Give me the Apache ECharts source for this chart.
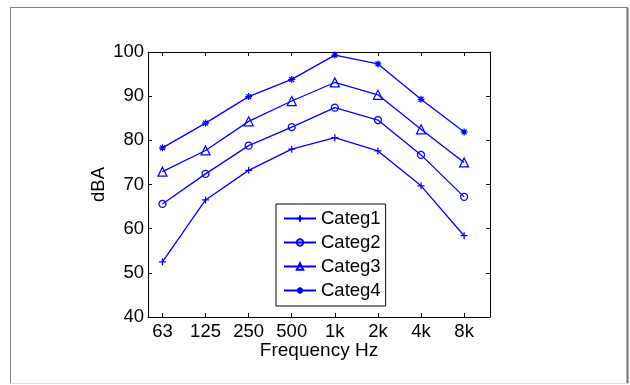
<!DOCTYPE html>
<html>
<head>
<meta charset="utf-8">
<script src="https://cdn.jsdelivr.net/npm/echarts@6/dist/echarts.min.js"></script>
<style>
html,body{margin:0;padding:0;background:#fff;}
#chart{width:630px;height:385px;}
</style>
</head>
<body>
<div id="chart"></div>
<script>
// ---- data ----
var categories = ['63', '125', '250', '500', '1k', '2k', '4k', '8k'];
var seriesNames = ['Categ1', 'Categ2', 'Categ3', 'Categ4'];
var categ1 = [52.5, 66.5, 73.2, 78.0, 80.6, 77.6, 69.7, 58.4];
var categ2 = [65.6, 72.4, 78.8, 83.0, 87.4, 84.6, 76.7, 67.2];
var categ3 = [72.9, 77.7, 84.3, 88.9, 93.1, 90.3, 82.5, 75.0];
var categ4 = [78.3, 83.9, 89.9, 93.8, 99.3, 97.3, 89.3, 81.9];
var yTicks = [40, 50, 60, 70, 80, 90, 100];
var xLabel = 'Frequency Hz';
var yLabel = 'dBA';

// ---- chart ----
var FONT = 'Liberation Sans, Arial, sans-serif';
var FS = 18.5;
var BLUE = '#0000ff';
var xPositions = categories.map(function (c, i) { return i + 1; });
function pairs(vals) { return vals.map(function (v, i) { return [xPositions[i], v]; }); }

var symbols = [
  'path://M5,0L5,10M0,5L10,5',
  'circle',
  'triangle',
  'path://M5,0L5,10M0,5L10,5M1.5,1.5L8.5,8.5M1.5,8.5L8.5,1.5'
];
var symbolSizes = [7, 7, 9, 7];
var allVals = [categ1, categ2, categ3, categ4];

var series = allVals.map(function (vals, k) {
  return {
    name: seriesNames[k],
    type: 'line',
    data: pairs(vals),
    xAxisIndex: 0,
    yAxisIndex: 0,
    symbol: symbols[k],
    symbolSize: symbolSizes[k],
    showAllSymbol: true,
    lineStyle: { color: BLUE, width: 1.3 },
    itemStyle: { color: 'rgba(0,0,0,0)', borderColor: BLUE, borderWidth: 1.25 },
    emphasis: { disabled: true },
    animation: false
  };
});

var axisCommon = {
  axisLine: { show: true, lineStyle: { color: '#000', width: 1 } },
  axisTick: { show: true, inside: true, length: 4, lineStyle: { color: '#000', width: 1 } },
  splitLine: { show: false }
};

var chart = echarts.init(document.getElementById('chart'), null, { renderer: 'canvas' });
chart.setOption({
  backgroundColor: '#fff',
  animation: false,
  textStyle: { fontFamily: FONT },
  grid: { left: 148, top: 52, right: 140, bottom: 68, containLabel: false },
  graphic: [
    { type: 'line', shape: { x1: 10.5, y1: 7.5, x2: 627.5, y2: 7.5 }, style: { stroke: '#808080', lineWidth: 1 }, silent: true },
    { type: 'line', shape: { x1: 10.5, y1: 7.5, x2: 10.5, y2: 383.5 }, style: { stroke: '#808080', lineWidth: 1 }, silent: true },
    { type: 'line', shape: { x1: 627.5, y1: 7.5, x2: 627.5, y2: 383.5 }, style: { stroke: '#707070', lineWidth: 2 }, silent: true },
    { type: 'line', shape: { x1: 10.5, y1: 383.5, x2: 627.5, y2: 383.5 }, style: { stroke: '#dcdcdc', lineWidth: 1 }, silent: true }
  ],
  xAxis: [
    Object.assign({}, axisCommon, {
      type: 'value', position: 'bottom', min: 0.665, max: 8.6,
      name: xLabel, nameLocation: 'middle', nameGap: 24, nameMoveOverlap: false,
      nameTextStyle: { color: '#000', fontSize: 19, fontFamily: FONT },
      axisTick: Object.assign({}, axisCommon.axisTick, { customValues: xPositions }),
      axisLabel: {
        customValues: xPositions, margin: 5, color: '#000', fontSize: FS, fontFamily: FONT,
        formatter: function (v) { return categories[Math.round(v) - 1]; }
      }
    }),
    Object.assign({}, axisCommon, {
      type: 'value', position: 'top', min: 0.665, max: 8.6,
      axisTick: Object.assign({}, axisCommon.axisTick, { customValues: xPositions }),
      axisLabel: { show: false }
    })
  ],
  yAxis: [
    Object.assign({}, axisCommon, {
      type: 'value', position: 'left', min: yTicks[0], max: yTicks[yTicks.length - 1], interval: 10,
      name: yLabel, nameLocation: 'middle', nameGap: 40, nameRotate: 90, nameMoveOverlap: false,
      nameTextStyle: { color: '#000', fontSize: FS, fontFamily: FONT },
      axisLabel: { margin: 4, color: '#000', fontSize: FS, fontFamily: FONT }
    }),
    Object.assign({}, axisCommon, {
      type: 'value', position: 'right', min: yTicks[0], max: yTicks[yTicks.length - 1], interval: 10,
      axisLabel: { show: false }
    })
  ],
  legend: {
    data: seriesNames,
    orient: 'vertical',
    left: 276, top: 204,
    backgroundColor: '#fff',
    borderColor: '#000', borderWidth: 1,
    borderRadius: 0,
    padding: [5, 5, 6, 7],
    itemWidth: 32, itemHeight: 8, itemGap: 5,
    selectedMode: false,
    textStyle: { color: '#000', fontSize: FS, fontFamily: FONT }
  },
  series: series
});
</script>
</body>
</html>
